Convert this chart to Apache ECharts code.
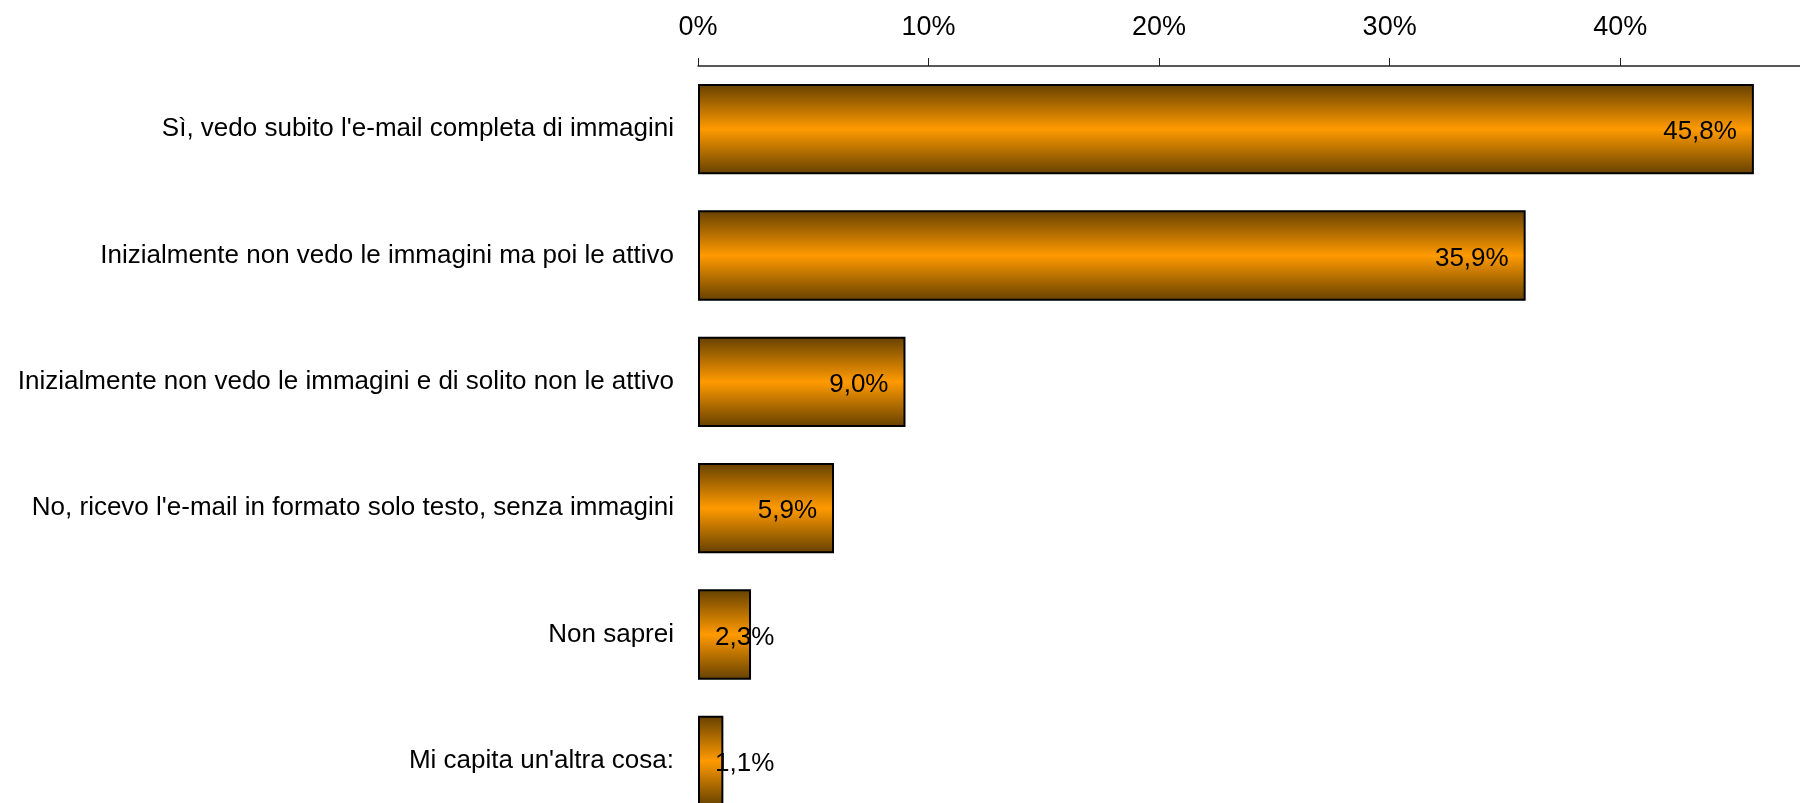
<!DOCTYPE html>
<html>
<head>
<meta charset="utf-8">
<script src="https://cdn.jsdelivr.net/npm/echarts@6/dist/echarts.min.js"></script>
<style>
html,body{margin:0;padding:0;background:#fff;}
#chart{width:1800px;height:803px;}
</style>
</head>
<body>
<div id="chart"></div>
<script>
const categories = [
  "Sì, vedo subito l'e-mail completa di immagini",
  "Inizialmente non vedo le immagini ma poi le attivo",
  "Inizialmente non vedo le immagini e di solito non le attivo",
  "No, ricevo l'e-mail in formato solo testo, senza immagini",
  "Non saprei",
  "Mi capita un'altra cosa:"
];
const values = [45.8, 35.9, 9.0, 5.9, 2.3, 1.1];
const tickLabels = ["0%", "10%", "20%", "30%", "40%"];

const FONT = "Liberation Sans";
const chart = echarts.init(document.getElementById('chart'), null, {renderer: 'canvas'});

const barGradient = new echarts.graphic.LinearGradient(0, 0, 0, 1, [
  {offset: 0, color: '#654000'},
  {offset: 0.5, color: '#ff9a00'},
  {offset: 1, color: '#654000'}
]);

const seriesData = values.map(v => ({
  value: v,
  label: v < 4
    ? {position: 'insideLeft', distance: 17}
    : {position: 'insideRight', distance: 17}
}));

chart.setOption({
  backgroundColor: '#ffffff',
  animation: false,
  grid: {left: 698, right: 0, top: 66, height: 758, containLabel: false, outerBoundsMode: 'none'},
  xAxis: {
    type: 'value',
    position: 'top',
    min: 0,
    max: 47.8,
    interval: 10,
    axisLine: {show: true, lineStyle: {color: '#222', width: 1.5}},
    axisTick: {show: true, inside: false, length: 8, lineStyle: {color: '#222', width: 1}},
    splitLine: {show: false},
    axisLabel: {
      show: true,
      margin: 25,
      showMaxLabel: false,
      fontFamily: FONT,
      fontSize: 27,
      color: '#000',
      formatter: function (v) {
        const i = Math.round(v / 10);
        return (Math.abs(v - i * 10) < 1e-6 && i < tickLabels.length) ? tickLabels[i] : '';
      }
    }
  },
  yAxis: {
    type: 'category',
    data: categories,
    inverse: true,
    axisLine: {show: false},
    axisTick: {show: false},
    splitLine: {show: false},
    axisLabel: {margin: 24, fontFamily: FONT, fontSize: 26, color: '#000', padding: [6, 0, 0, 0]}
  },
  series: [{
    type: 'bar',
    data: seriesData,
    barCategoryGap: '28.5%',
    itemStyle: {color: barGradient, borderColor: '#000', borderWidth: 2},
    label: {
      show: true,
      fontFamily: FONT,
      fontSize: 26,
      color: '#000',
      offset: [0, 3],
      formatter: p => p.value.toFixed(1).replace('.', ',') + '%'
    }
  }]
});
</script>
</body>
</html>
